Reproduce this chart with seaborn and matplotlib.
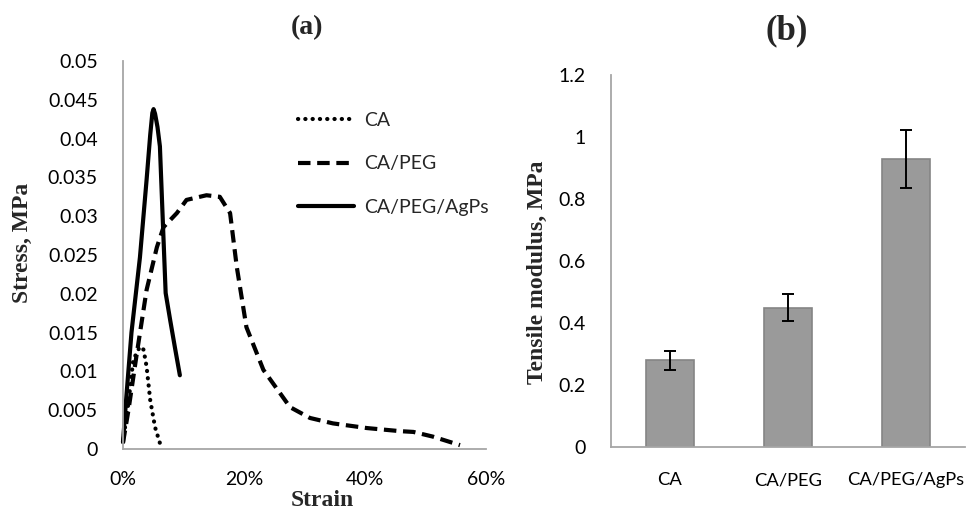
import numpy as np
import pandas as pd
import matplotlib
matplotlib.use("Agg")
import matplotlib.pyplot as plt
import seaborn as sns
from matplotlib.ticker import FuncFormatter, FixedLocator

# stress-strain curves (strain in %, stress in MPa)
ca_strain = [0, 0.9, 1.7, 2.8, 3.4, 3.9, 4.5, 5.3, 6.4]
ca_stress = [0.0009, 0.006, 0.0115, 0.0132, 0.0128, 0.0106, 0.0063, 0.0028, 0.0]

peg_strain = [0, 0.9, 2.3, 3.9, 5.6, 6.7, 8.9, 10.5, 13.8, 16.0, 17.7, 18.8, 20.4,
              23.2, 27.6, 30.9, 34.7, 40.3, 45.8, 48.0, 51.2, 55.7]
peg_stress = [0.0008, 0.005, 0.0124, 0.0205, 0.026, 0.0286, 0.0304, 0.0321, 0.0327,
              0.0325, 0.0304, 0.0235, 0.0157, 0.0102, 0.0054, 0.004, 0.0033, 0.0027,
              0.0023, 0.0022, 0.0016, 0.0005]

agp_strain = [0, 0.5, 1.4, 2.8, 3.9, 4.5, 4.85, 5.05, 5.3, 5.7, 6.1, 6.6, 7.05, 7.8, 8.6, 9.4]
agp_stress = [0.0009, 0.0062, 0.015, 0.0247, 0.0347, 0.0405, 0.0433, 0.0438, 0.0432,
              0.0415, 0.0390, 0.029, 0.0201, 0.0166, 0.013, 0.0095]

# tensile modulus bars
samples = ["CA", "CA/PEG", "CA/PEG/AgPs"]
modulus = [0.28, 0.45, 0.93]
modulus_err = [0.03, 0.045, 0.093]

sns.set_theme(style="white")
plt.rcParams["font.family"] = ["Lato", "DejaVu Sans"]

W, H = 967, 519
fig = plt.figure(figsize=(W / 100, H / 100), dpi=100)
axis_grey = "#a6a6a6"
serif = ["Liberation Serif", "DejaVu Serif"]


def px_axes(l, t, r, b):
    return fig.add_axes([l / W, 1 - b / H, (r - l) / W, (b - t) / H])


def style_axes(ax):
    for s in ["top", "right"]:
        ax.spines[s].set_visible(False)
    for s in ["left", "bottom"]:
        ax.spines[s].set_color(axis_grey)
        ax.spines[s].set_linewidth(1.3)
    ax.tick_params(axis="both", which="both", direction="out", color=axis_grey,
                   width=1.3, labelsize=14, labelcolor="black")


# ---- (a) stress-strain ----
ax1 = px_axes(123, 61, 486, 449)
style_axes(ax1)
sns.lineplot(x=ca_strain, y=ca_stress, ax=ax1, color="black", lw=3.0, sort=False,
             label="CA", linestyle=(0, (0.05, 1.7)), dash_capstyle="round")
sns.lineplot(x=peg_strain, y=peg_stress, ax=ax1, color="black", lw=3.0, sort=False,
             label="CA/PEG", linestyle=(0, (3.0, 1.6)))
sns.lineplot(x=agp_strain, y=agp_stress, ax=ax1, color="black", lw=3.0, sort=False,
             label="CA/PEG/AgPs")
ax1.set_xlim(0, 60)
ax1.set_ylim(0, 0.05)
ax1.set_xticks([0, 20, 40, 60])
ax1.xaxis.set_major_formatter(FuncFormatter(lambda v, p: f"{v:.0f}%"))
ax1.set_yticks(np.arange(0, 0.0501, 0.005))
ax1.yaxis.set_major_formatter(FuncFormatter(lambda v, p: "0" if v == 0 else f"{v:.3f}".rstrip("0")))
ax1.tick_params(axis="y", length=6, pad=12)
ax1.tick_params(axis="x", length=5, pad=11)
ax1.set_xlabel("")
ax1.set_ylabel("")
for ln in ax1.get_lines():
    ln.set_clip_on(False)
ax1.legend(loc="upper left", bbox_to_anchor=(0.482, 0.868), frameon=False,
           fontsize=14, handlelength=2.9, handletextpad=0.5, labelspacing=1.35,
           borderpad=0, borderaxespad=0)

# ---- (b) tensile modulus ----
ax2 = px_axes(611, 75, 965, 447)
style_axes(ax2)
df = pd.DataFrame({"sample": samples, "modulus": modulus})
sns.barplot(data=df, x="sample", y="modulus", ax=ax2, color="#9a9a9a",
            saturation=1, width=0.4, edgecolor="#858585", linewidth=1.2)
ax2.errorbar(np.arange(len(samples)), modulus, yerr=modulus_err, fmt="none",
             ecolor="black", elinewidth=1.4, capsize=4, capthick=1.4)
ax2.set_xlim(-0.5, len(samples) - 0.5)
ax2.set_ylim(0, 1.2)
ax2.set_yticks(np.arange(0, 1.21, 0.2))
ax2.yaxis.set_major_formatter(FuncFormatter(lambda v, p: "0" if v == 0 else f"{v:.1f}".rstrip("0").rstrip(".")))
ax2.xaxis.set_minor_locator(FixedLocator(np.arange(-0.5, len(samples), 1.0)))
ax2.tick_params(axis="x", which="major", length=0, pad=18, labelsize=13.2)
ax2.tick_params(axis="x", which="minor", length=6)
ax2.tick_params(axis="y", length=6, pad=12)
ax2.set_xlabel("")
ax2.set_ylabel("")

# titles and axis labels
fig.text(307 / W, 1 - 28 / H, "(a)", ha="center", va="center", fontsize=20,
         fontweight="bold", family=serif)
fig.text(787 / W, 1 - 31 / H, "(b)", ha="center", va="center", fontsize=25,
         fontweight="bold", family=serif)
fig.text(322 / W, 1 - 501 / H, "Strain", ha="center", va="center", fontsize=17,
         fontweight="bold", family=serif)
fig.text(22 / W, 1 - 243 / H, "Stress, MPa", ha="center", va="center", fontsize=17,
         fontweight="bold", family=serif, rotation=90)
fig.text(537 / W, 1 - 272 / H, "Tensile modulus, MPa", ha="center", va="center",
         fontsize=17, fontweight="bold", family=serif, rotation=90)

fig.savefig("out.png", dpi=100, facecolor="white")
